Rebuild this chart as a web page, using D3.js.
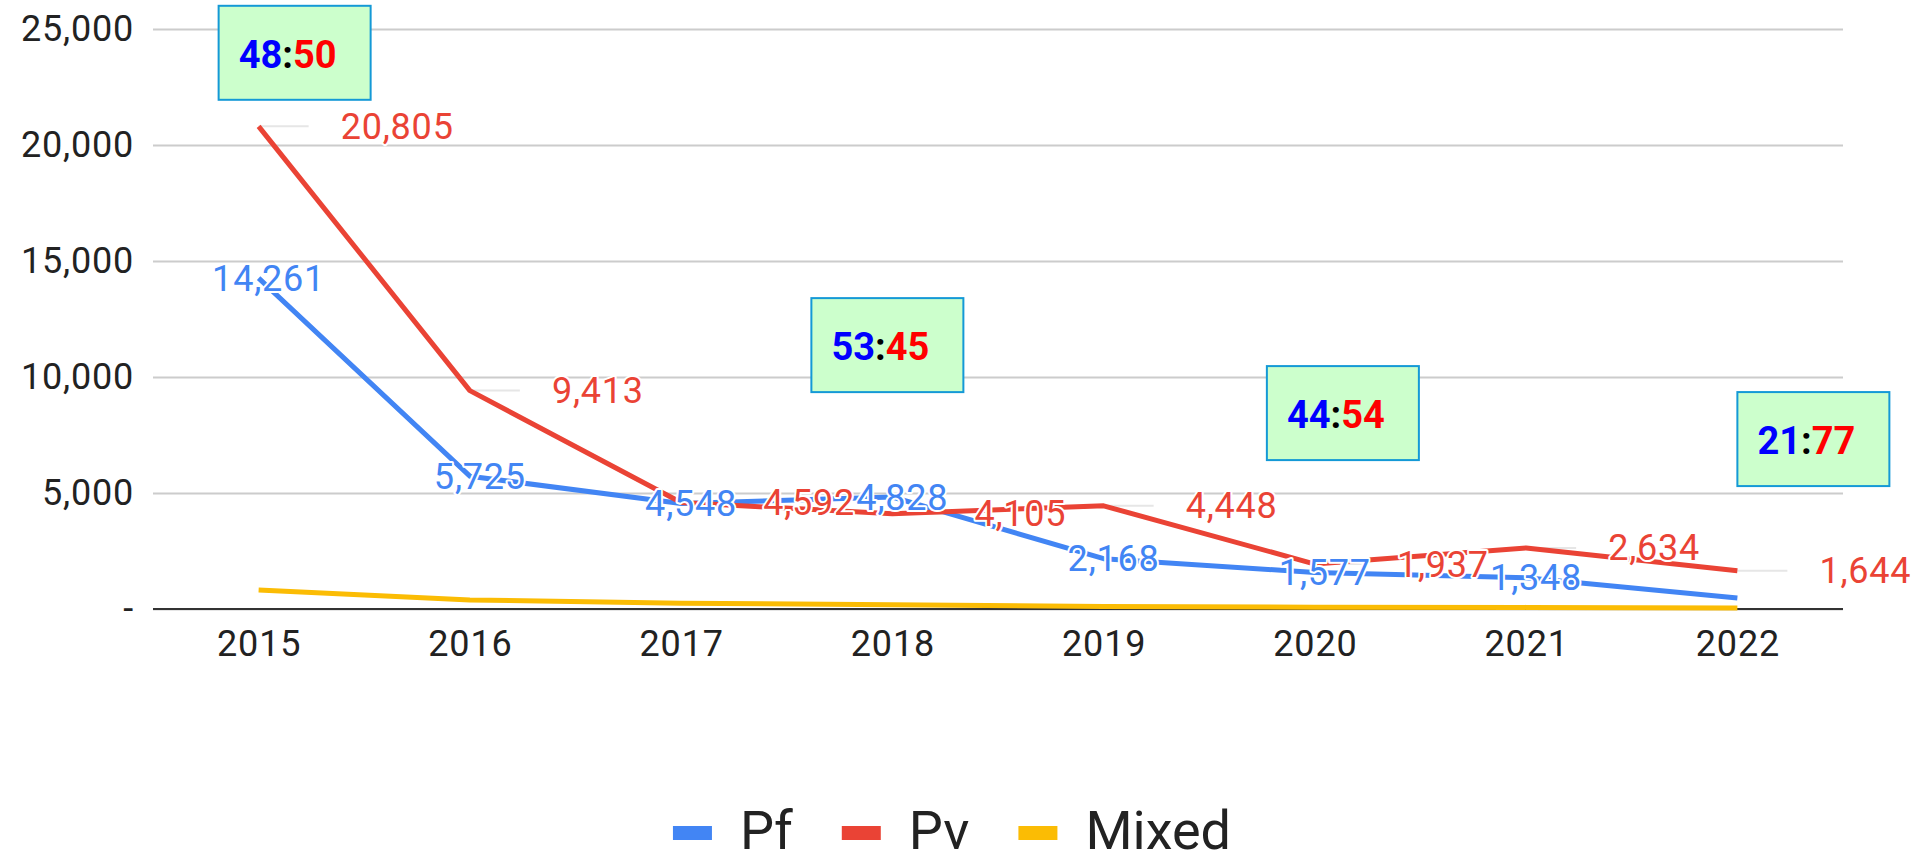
<!DOCTYPE html>
<html>
<head>
<meta charset="utf-8">
<script src="https://cdn.jsdelivr.net/npm/d3@7"></script>
<style>
  body { margin: 0; background: #fff; }
  svg { display: block; font-family: Roboto, "Noto Sans", sans-serif; }
</style>
</head>
<body>
<svg id="chart" width="1924" height="853"></svg>
<script>
// data
const years = ["2015", "2016", "2017", "2018", "2019", "2020", "2021", "2022"];
const pf = [14261, 5725, 4548, 4828, 2168, 1577, 1348, 470];
const pv = [20805, 9413, 4592, 4105, 4448, 1937, 2634, 1644];
const mixed = [820, 390, 250, 180, 110, 75, 70, 45];
const pfLabelled = [true, true, true, true, true, true, true, false];
const yTicks = [0, 5000, 10000, 15000, 20000, 25000];
const seriesNames = ["Pf", "Pv", "Mixed"];

// share boxes (Pf : Pv)
const ratioYears = ["2015", "2018", "2020", "2022"];
const ratioPf = [48, 53, 44, 21];
const ratioPv = [50, 45, 54, 77];

const colors = { Pf: "#4285f4", Pv: "#ea4335", Mixed: "#fbbc04" };

const svg = d3.select("#chart");
const plotL = 153, plotR = 1843, plotT = 29, plotB = 609;

const x = d3.scalePoint().domain(years).range([plotL, plotR]).padding(0.5);
const y = d3.scaleLinear().domain([0, 25000]).range([plotB, plotT]);
const fmt = d3.format(",");

// y axis + gridlines
const yAxis = svg.append("g")
    .attr("transform", `translate(${plotL},0)`)
    .call(d3.axisLeft(y).tickValues(yTicks)
        .tickSizeInner(-(plotR - plotL)).tickSizeOuter(0).tickPadding(19)
        .tickFormat(d => d === 0 ? "-" : fmt(d)));
yAxis.select(".domain").remove();
yAxis.selectAll("line").attr("stroke", "#cccccc").attr("stroke-width", 2);
yAxis.selectAll("text")
    .attr("font-size", 36).attr("letter-spacing", 0.8)
    .attr("font-family", "Roboto").attr("fill", "#222");

// baseline
svg.append("line")
    .attr("x1", plotL).attr("x2", plotR)
    .attr("y1", y(0)).attr("y2", y(0))
    .attr("stroke", "#333").attr("stroke-width", 2);

// x axis
const xAxis = svg.append("g")
    .attr("transform", `translate(0,${plotB})`)
    .call(d3.axisBottom(x).tickSize(0).tickPadding(21));
xAxis.select(".domain").remove();
xAxis.selectAll("text")
    .attr("font-size", 36).attr("letter-spacing", 0.8)
    .attr("font-family", "Roboto").attr("fill", "#222");

// leader lines for the Pv labels
svg.append("g").selectAll("line")
    .data(pv)
    .join("line")
    .attr("x1", (d, i) => x(years[i]))
    .attr("x2", (d, i) => x(years[i]) + 50)
    .attr("y1", d => y(d)).attr("y2", d => y(d))
    .attr("stroke", "#e6e6e6").attr("stroke-width", 2);

// lines
const line = d3.line()
    .x((d, i) => x(years[i]))
    .y(d => y(d));

const series = [
    { name: "Pf", values: pf },
    { name: "Pv", values: pv },
    { name: "Mixed", values: mixed }
];

svg.append("g").selectAll("path")
    .data(series)
    .join("path")
    .attr("d", d => line(d.values))
    .attr("fill", "none")
    .attr("stroke", d => colors[d.name])
    .attr("stroke-width", 5)
    .attr("stroke-linejoin", "round");

// data labels
function labels(values, color, anchor, dx, show) {
    svg.append("g").selectAll("text")
        .data(values.map((v, i) => ({ v, i })).filter(d => show ? show[d.i] : true))
        .join("text")
        .attr("x", d => x(years[d.i]) + dx)
        .attr("y", d => y(d.v))
        .attr("dy", "0.35em")
        .attr("text-anchor", anchor)
        .attr("font-size", 36)
        .attr("letter-spacing", 0.8)
        .attr("fill", color)
        .attr("stroke", "#fff")
        .attr("stroke-width", 4)
        .attr("stroke-linejoin", "round")
        .attr("paint-order", "stroke")
        .text(d => fmt(d.v));
}
labels(pf, colors.Pf, "middle", 10, pfLabelled);
labels(pv, colors.Pv, "start", 82);

// share boxes
const boxPlace = [
    { dx: -40, topValue: 26000 },
    { dx: -81, topValue: 13400 },
    { dx: -48, topValue: 10470 },
    { dx: 0, topValue: 9350 }
];
const boxW = 152, boxH = 94;

const boxes = svg.append("g").selectAll("g")
    .data(ratioYears.map((yr, i) => ({ yr, pf: ratioPf[i], pv: ratioPv[i], place: boxPlace[i] })))
    .join("g")
    .attr("transform", d => `translate(${x(d.yr) + d.place.dx},${y(d.place.topValue)})`);

boxes.append("rect")
    .attr("width", boxW).attr("height", boxH)
    .attr("fill", "#ccffcc")
    .attr("stroke", "#1499d6")
    .attr("stroke-width", 2);

const bt = boxes.append("text")
    .attr("x", 20).attr("y", 62)
    .attr("font-size", 38).attr("font-weight", "bold");
bt.append("tspan").attr("fill", "#0000ff").text(d => d.pf);
bt.append("tspan").attr("fill", "#000").text(":");
bt.append("tspan").attr("fill", "#ff0000").text(d => d.pv);

// legend
const items = svg.append("g").selectAll("g")
    .data(seriesNames)
    .join("g");
items.append("rect")
    .attr("y", 826).attr("width", 39).attr("height", 14)
    .attr("fill", d => colors[d]);
items.append("text")
    .attr("x", 67).attr("y", 849)
    .attr("font-size", 54).attr("fill", "#222")
    .text(d => d);

let pos = 0;
const offsets = [];
items.each(function () {
    offsets.push(pos);
    const w = d3.select(this).select("text").node().getComputedTextLength();
    pos += 67 + w + 49;
});
const total = pos - 49;
const startX = 952 - total / 2;
items.attr("transform", (d, i) => `translate(${startX + offsets[i]},0)`);
</script>
</body>
</html>
